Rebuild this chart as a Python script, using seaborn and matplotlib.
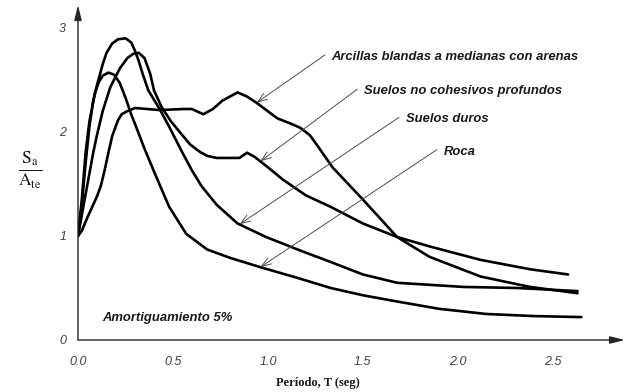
import numpy as np
import pandas as pd
import matplotlib
matplotlib.use("Agg")
import matplotlib.pyplot as plt
import seaborn as sns

# Espectros normalizados Sa/Ate en función del período T (seg), amortiguamiento 5%
t_roca = [0.0, 0.02, 0.04, 0.06, 0.09, 0.11, 0.13, 0.16, 0.19, 0.22, 0.25, 0.28, 0.31, 0.35,
          0.40, 0.48, 0.57, 0.68, 0.80, 0.96, 1.15, 1.33, 1.50, 1.68, 1.90, 2.15, 2.40, 2.65]
sa_roca = [1.0, 1.35, 1.80, 2.10, 2.38, 2.48, 2.54, 2.57, 2.55, 2.47, 2.33, 2.17, 2.03, 1.84,
           1.62, 1.28, 1.02, 0.87, 0.79, 0.70, 0.60, 0.50, 0.43, 0.37, 0.30, 0.25, 0.23, 0.22]

t_duros = [0.0, 0.02, 0.04, 0.06, 0.08, 0.10, 0.13, 0.15, 0.18, 0.21, 0.25, 0.28, 0.30, 0.32,
           0.34, 0.37, 0.43, 0.48, 0.55, 0.60, 0.65, 0.73, 0.84, 0.99, 1.17, 1.33, 1.50, 1.68,
           2.03, 2.31, 2.63]
sa_duros = [1.0, 1.30, 1.70, 2.05, 2.30, 2.45, 2.65, 2.76, 2.85, 2.89, 2.90, 2.86, 2.78, 2.68,
            2.56, 2.40, 2.22, 2.05, 1.80, 1.63, 1.48, 1.30, 1.12, 0.99, 0.86, 0.75, 0.63, 0.55,
            0.51, 0.50, 0.47]

t_cohes = [0.0, 0.03, 0.05, 0.08, 0.10, 0.13, 0.17, 0.22, 0.26, 0.29, 0.32, 0.35, 0.38, 0.40,
           0.44, 0.49, 0.54, 0.59, 0.64, 0.68, 0.73, 0.85, 0.89, 0.93, 1.00, 1.08, 1.20, 1.33,
           1.50, 1.68, 1.85, 2.12, 2.38, 2.58]
sa_cohes = [1.0, 1.30, 1.50, 1.80, 1.97, 2.20, 2.43, 2.61, 2.71, 2.75, 2.76, 2.71, 2.56, 2.40,
            2.24, 2.10, 1.99, 1.88, 1.81, 1.77, 1.75, 1.75, 1.80, 1.76, 1.66, 1.54, 1.39, 1.28,
            1.12, 0.99, 0.90, 0.77, 0.68, 0.63]

t_arcillas = [0.0, 0.02, 0.05, 0.08, 0.10, 0.12, 0.14, 0.16, 0.18, 0.21, 0.23, 0.26, 0.30, 0.43,
              0.55, 0.60, 0.66, 0.71, 0.76, 0.84, 0.89, 0.94, 1.05, 1.12, 1.17, 1.22, 1.26, 1.34,
              1.50, 1.68, 1.85, 2.12, 2.38, 2.63]
sa_arcillas = [1.0, 1.05, 1.18, 1.30, 1.38, 1.48, 1.63, 1.80, 1.96, 2.11, 2.17, 2.20, 2.23, 2.21,
               2.22, 2.22, 2.17, 2.22, 2.30, 2.38, 2.34, 2.28, 2.13, 2.08, 2.04, 1.97, 1.87, 1.66,
               1.35, 0.99, 0.80, 0.61, 0.51, 0.45]

suelos = ["Arcillas blandas a medianas con arenas", "Suelos no cohesivos profundos",
          "Suelos duros", "Roca"]
curvas = [(t_arcillas, sa_arcillas), (t_cohes, sa_cohes), (t_duros, sa_duros), (t_roca, sa_roca)]
# período donde la flecha de cada etiqueta toca su curva, y origen de la flecha (T, Sa/Ate)
t_flecha = [0.94, 0.96, 0.85, 0.96]
origen_flecha = [(1.30, 2.74), (1.47, 2.41), (1.69, 2.14), (1.89, 1.83)]

x_ticks = [0.0, 0.5, 1.0, 1.5, 2.0, 2.5]
x_ticklabels = ["0.0", "0.5", "1.0", "1.5", "2.0", "2.5"]
y_ticks = [0, 1, 2, 3]

df = pd.concat([pd.DataFrame({"T": t, "Sa": s, "suelo": n})
                for n, (t, s) in zip(suelos, curvas)], ignore_index=True)

sns.set_style("white")
plt.rcParams["font.family"] = ["Liberation Sans", "DejaVu Sans"]
plt.rcParams["mathtext.fontset"] = "stix"

fig = plt.figure(figsize=(6.3, 3.92), dpi=100)
ax = fig.add_axes([78 / 630, 52 / 392, 547 / 630, 335 / 392])

sns.lineplot(data=df, x="T", y="Sa", hue="suelo", palette=["black"] * 4,
             estimator=None, sort=False, legend=False, lw=1.9,
             solid_joinstyle="round", solid_capstyle="round", ax=ax)

ax.set_xlim(0, 2.88)
ax.set_ylim(0, 3.22)
for side in ("top", "right", "left", "bottom"):
    ax.spines[side].set_visible(False)

# ejes con punta de flecha
ejes = dict(arrowstyle="-|>,head_length=0.9,head_width=0.22", color="0.15", lw=1.0,
            shrinkA=0, shrinkB=0)
ax.annotate("", xy=(1.0, 0.0), xytext=(0.0, 0.0), xycoords="axes fraction", arrowprops=ejes)
ax.annotate("", xy=(0.0, 1.0), xytext=(0.0, 0.0), xycoords="axes fraction", arrowprops=ejes)

ax.set_xticks(x_ticks)
ax.set_xticklabels(x_ticklabels)
ax.set_yticks(y_ticks)
ax.set_yticklabels([str(v) for v in y_ticks])
ax.tick_params(axis="both", direction="inout", length=9, width=0.8, colors="0.2",
               labelsize=9, labelcolor="0.25")
ax.tick_params(axis="x", pad=7)
ax.tick_params(axis="y", pad=4)
for lbl in ax.get_xticklabels() + ax.get_yticklabels():
    lbl.set_fontstyle("italic")
ax.set_xlabel("")
ax.set_ylabel("")

# etiquetas con flecha hacia cada curva
flecha = dict(arrowstyle="->,head_length=0.7,head_width=0.25", color="0.3", lw=0.7,
              shrinkA=0, shrinkB=0)
for nombre, (t, s), tf, (tx, ty) in zip(suelos, curvas, t_flecha, origen_flecha):
    punta = (tf, float(np.interp(tf, t, s)))
    ax.annotate("", xy=punta, xytext=(tx, ty), arrowprops=flecha)
    ax.text(tx + 0.035, ty - 0.02, nombre, fontsize=9.4, fontweight="bold", fontstyle="italic",
            color="0.1", ha="left", va="center")

ax.text(0.13, 0.21, "Amortiguamiento 5%", fontsize=9.4, fontweight="bold", fontstyle="italic",
        color="0.1", ha="left", va="center")

fig.text(318 / 630, 1 - 383 / 392, "Período, T (seg)", family="Liberation Serif",
         fontweight="bold", fontsize=9, ha="center", va="center", color="0.1")
fig.text(30 / 630, 1 - 170 / 392, r"$\frac{\mathrm{S_a}}{\mathrm{A_{te}}}$", fontsize=18,
         ha="center", va="center", color="0.1")

fig.savefig("out.png", dpi=100)
